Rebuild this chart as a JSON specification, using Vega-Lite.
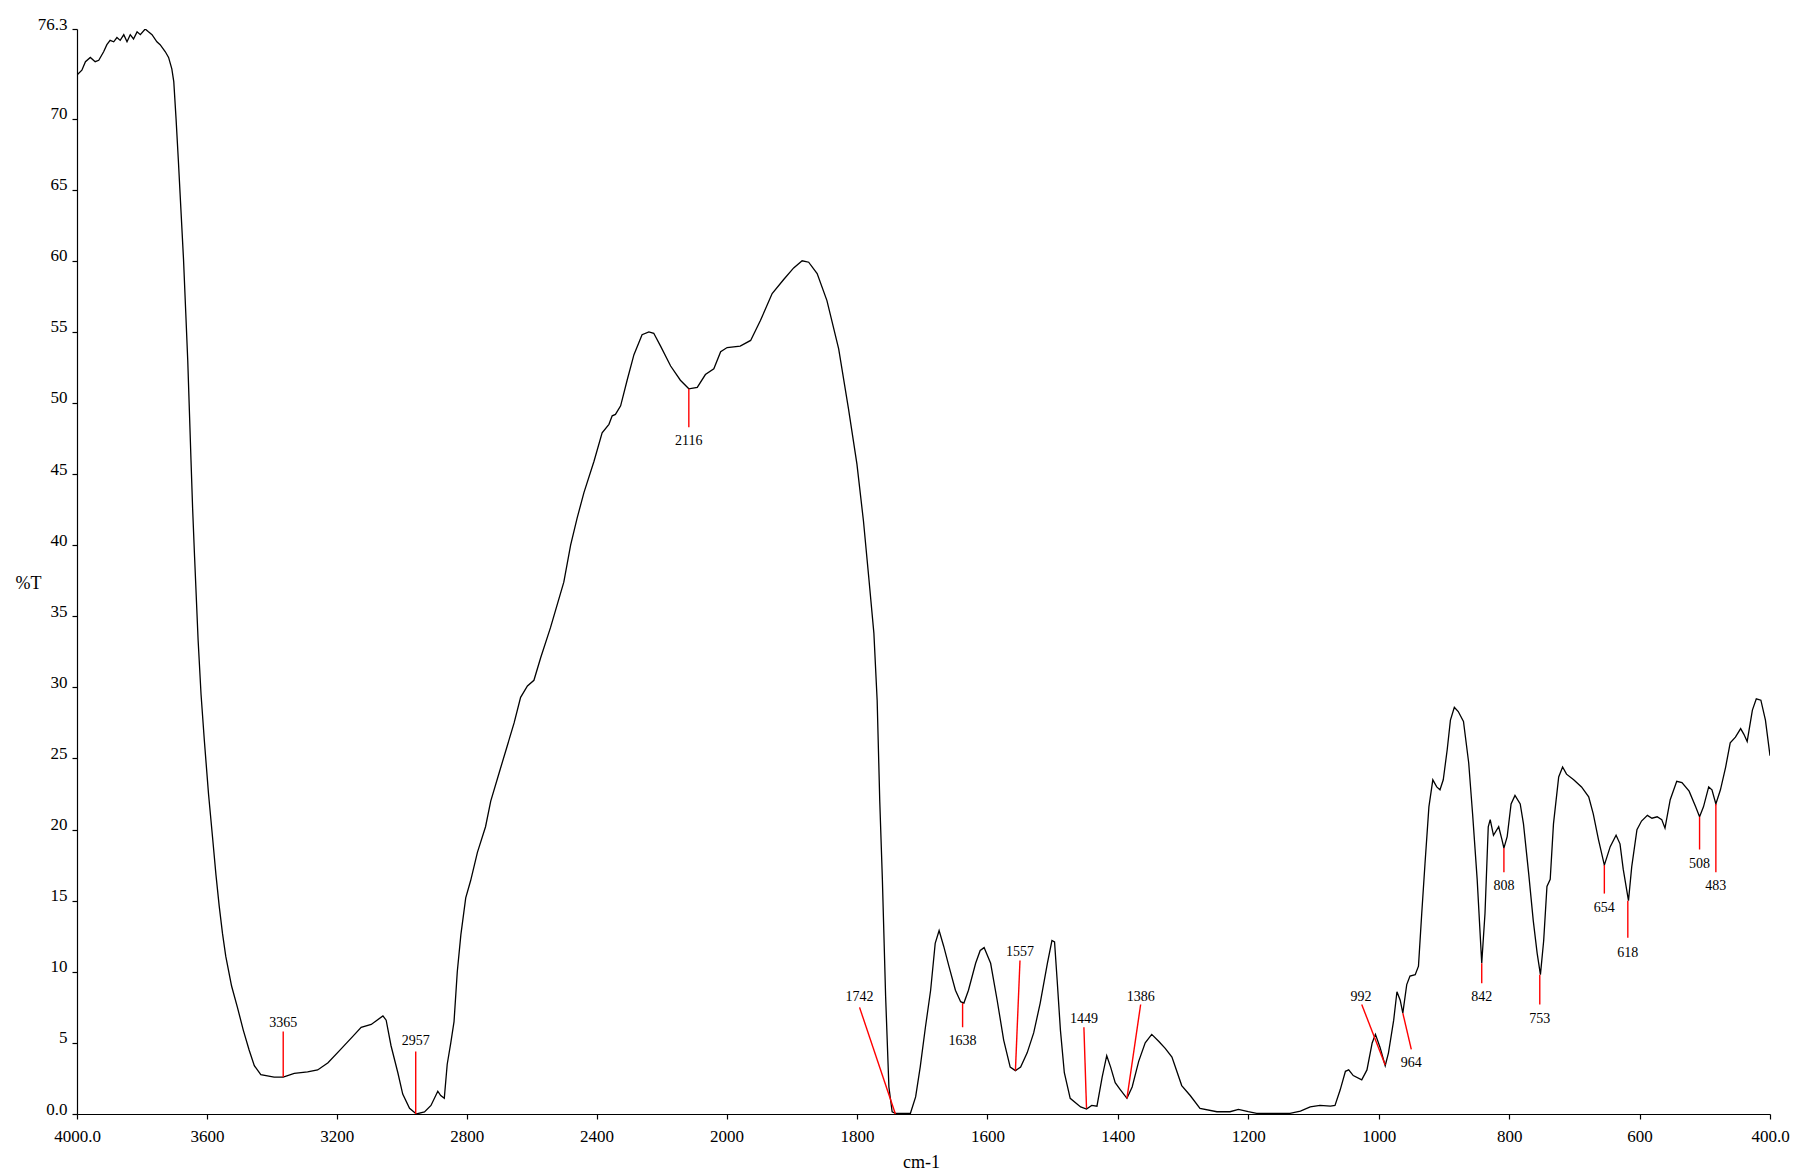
{
  "$schema": "https://vega.github.io/schema/vega-lite/v6.json",
  "width": 1693,
  "height": 1085,
  "autosize": {"type": "none"},
  "padding": {"left": 77, "top": 29, "right": 24, "bottom": 59},
  "background": "white",
  "config": {
    "view": {"stroke": null},
    "font": "Liberation Serif",
    "axis": {
      "grid": false,
      "domainColor": "#000000",
      "domainWidth": 1.2,
      "tickColor": "#000000",
      "tickWidth": 1.2,
      "tickSize": 5,
      "labelFont": "Liberation Serif",
      "labelFontSize": 17,
      "labelColor": "#000000",
      "titleFont": "Liberation Serif",
      "titleFontSize": 18,
      "titleFontWeight": "normal",
      "titleColor": "#000000"
    }
  },
  "datasets": {
    "spectrum": [
      {"w": 4000, "t": 73.07}, {"w": 3985, "t": 73.4}, {"w": 3974, "t": 74.0}, {"w": 3959, "t": 74.3},
      {"w": 3944, "t": 74.0}, {"w": 3933, "t": 74.1}, {"w": 3918, "t": 74.7}, {"w": 3908, "t": 75.2},
      {"w": 3898, "t": 75.5}, {"w": 3887, "t": 75.4}, {"w": 3877, "t": 75.7}, {"w": 3867, "t": 75.5},
      {"w": 3856, "t": 75.9}, {"w": 3846, "t": 75.4}, {"w": 3836, "t": 75.9}, {"w": 3826, "t": 75.6},
      {"w": 3815, "t": 76.1}, {"w": 3805, "t": 75.9}, {"w": 3790, "t": 76.3}, {"w": 3780, "t": 76.1},
      {"w": 3769, "t": 75.9}, {"w": 3754, "t": 75.4}, {"w": 3744, "t": 75.2}, {"w": 3728, "t": 74.7},
      {"w": 3718, "t": 74.3}, {"w": 3708, "t": 73.5}, {"w": 3702, "t": 72.6}, {"w": 3695, "t": 70.0},
      {"w": 3688, "t": 67.1}, {"w": 3680, "t": 63.6}, {"w": 3672, "t": 60.1}, {"w": 3665, "t": 56.3},
      {"w": 3659, "t": 53.0}, {"w": 3654, "t": 49.5}, {"w": 3649, "t": 46.0}, {"w": 3644, "t": 42.6},
      {"w": 3638, "t": 39.2}, {"w": 3627, "t": 33.3}, {"w": 3618, "t": 29.5}, {"w": 3608, "t": 26.3},
      {"w": 3595, "t": 22.5}, {"w": 3582, "t": 19.3}, {"w": 3572, "t": 16.8}, {"w": 3562, "t": 14.6},
      {"w": 3552, "t": 12.7}, {"w": 3542, "t": 11.1}, {"w": 3524, "t": 9.0}, {"w": 3506, "t": 7.5},
      {"w": 3488, "t": 5.9}, {"w": 3470, "t": 4.5}, {"w": 3454, "t": 3.4}, {"w": 3434, "t": 2.76},
      {"w": 3393, "t": 2.6},
      {"w": 3365, "t": 2.6}, {"w": 3331, "t": 2.86}, {"w": 3290, "t": 2.96}, {"w": 3259, "t": 3.1},
      {"w": 3227, "t": 3.6}, {"w": 3186, "t": 4.6}, {"w": 3145, "t": 5.6}, {"w": 3125, "t": 6.1},
      {"w": 3094, "t": 6.3}, {"w": 3058, "t": 6.9}, {"w": 3048, "t": 6.6}, {"w": 3033, "t": 4.8},
      {"w": 3012, "t": 2.9}, {"w": 2997, "t": 1.4}, {"w": 2976, "t": 0.4}, {"w": 2955, "t": 0.0},
      {"w": 2930, "t": 0.15}, {"w": 2910, "t": 0.6}, {"w": 2889, "t": 1.6}, {"w": 2880, "t": 1.3},
      {"w": 2869, "t": 1.1}, {"w": 2860, "t": 3.5}, {"w": 2849, "t": 5.0}, {"w": 2839, "t": 6.5},
      {"w": 2829, "t": 10.0}, {"w": 2818, "t": 12.6}, {"w": 2803, "t": 15.2}, {"w": 2788, "t": 16.4},
      {"w": 2767, "t": 18.4}, {"w": 2742, "t": 20.2}, {"w": 2726, "t": 22.0}, {"w": 2700, "t": 24.0},
      {"w": 2675, "t": 25.9}, {"w": 2654, "t": 27.5}, {"w": 2634, "t": 29.3}, {"w": 2613, "t": 30.1},
      {"w": 2593, "t": 30.5}, {"w": 2572, "t": 32.1}, {"w": 2542, "t": 34.2}, {"w": 2501, "t": 37.4},
      {"w": 2480, "t": 40.0}, {"w": 2460, "t": 41.9}, {"w": 2439, "t": 43.7}, {"w": 2408, "t": 45.9},
      {"w": 2383, "t": 47.9}, {"w": 2362, "t": 48.5}, {"w": 2352, "t": 49.1}, {"w": 2342, "t": 49.2},
      {"w": 2326, "t": 49.8}, {"w": 2306, "t": 51.6}, {"w": 2285, "t": 53.4}, {"w": 2260, "t": 54.8},
      {"w": 2239, "t": 55.0}, {"w": 2224, "t": 54.9}, {"w": 2203, "t": 54.0}, {"w": 2172, "t": 52.6},
      {"w": 2142, "t": 51.6}, {"w": 2116, "t": 51.0}, {"w": 2090, "t": 51.1}, {"w": 2065, "t": 52.0},
      {"w": 2039, "t": 52.4}, {"w": 2018, "t": 53.6}, {"w": 1999, "t": 53.9}, {"w": 1979, "t": 54.0},
      {"w": 1963, "t": 54.4}, {"w": 1948, "t": 55.8}, {"w": 1930, "t": 57.7}, {"w": 1912, "t": 58.7},
      {"w": 1897, "t": 59.5}, {"w": 1884, "t": 60.0}, {"w": 1874, "t": 59.9}, {"w": 1861, "t": 59.1},
      {"w": 1846, "t": 57.2}, {"w": 1828, "t": 53.8}, {"w": 1813, "t": 49.6}, {"w": 1800, "t": 45.7},
      {"w": 1790, "t": 41.7}, {"w": 1782, "t": 37.8}, {"w": 1774, "t": 33.8}, {"w": 1769, "t": 29.1},
      {"w": 1765, "t": 22.0}, {"w": 1761, "t": 16.5}, {"w": 1756, "t": 8.25}, {"w": 1751, "t": 1.9},
      {"w": 1746, "t": 0.15}, {"w": 1741, "t": 0.05}, {"w": 1718, "t": 0.05}, {"w": 1710, "t": 1.2},
      {"w": 1703, "t": 3.3}, {"w": 1695, "t": 6.1}, {"w": 1687, "t": 8.7}, {"w": 1680, "t": 12.0},
      {"w": 1674, "t": 12.9}, {"w": 1667, "t": 11.8}, {"w": 1659, "t": 10.4}, {"w": 1649, "t": 8.7},
      {"w": 1641, "t": 7.9}, {"w": 1636, "t": 7.8}, {"w": 1629, "t": 8.7}, {"w": 1618, "t": 10.6},
      {"w": 1611, "t": 11.5}, {"w": 1605, "t": 11.7}, {"w": 1595, "t": 10.6}, {"w": 1585, "t": 8.0},
      {"w": 1575, "t": 5.2}, {"w": 1565, "t": 3.3}, {"w": 1557, "t": 3.05}, {"w": 1549, "t": 3.3},
      {"w": 1539, "t": 4.3}, {"w": 1529, "t": 5.7}, {"w": 1519, "t": 7.8}, {"w": 1508, "t": 10.6},
      {"w": 1501, "t": 12.2}, {"w": 1497, "t": 12.1}, {"w": 1493, "t": 9.4}, {"w": 1488, "t": 5.9},
      {"w": 1482, "t": 2.9}, {"w": 1473, "t": 1.1}, {"w": 1457, "t": 0.5}, {"w": 1448, "t": 0.35},
      {"w": 1440, "t": 0.6}, {"w": 1432, "t": 0.55}, {"w": 1424, "t": 2.6}, {"w": 1417, "t": 4.1},
      {"w": 1411, "t": 3.3}, {"w": 1404, "t": 2.2}, {"w": 1396, "t": 1.7}, {"w": 1386, "t": 1.1},
      {"w": 1378, "t": 1.9}, {"w": 1368, "t": 3.7}, {"w": 1358, "t": 5.0}, {"w": 1348, "t": 5.6},
      {"w": 1337, "t": 5.1}, {"w": 1327, "t": 4.6}, {"w": 1317, "t": 4.0}, {"w": 1302, "t": 2.0},
      {"w": 1289, "t": 1.3}, {"w": 1274, "t": 0.4}, {"w": 1248, "t": 0.16}, {"w": 1228, "t": 0.16},
      {"w": 1215, "t": 0.33}, {"w": 1200, "t": 0.16}, {"w": 1187, "t": 0.05}, {"w": 1136, "t": 0.05},
      {"w": 1120, "t": 0.2}, {"w": 1105, "t": 0.5}, {"w": 1090, "t": 0.6}, {"w": 1074, "t": 0.56},
      {"w": 1067, "t": 0.6}, {"w": 1059, "t": 1.7}, {"w": 1051, "t": 3.0}, {"w": 1046, "t": 3.1},
      {"w": 1039, "t": 2.7}, {"w": 1026, "t": 2.4}, {"w": 1018, "t": 3.1}, {"w": 1010, "t": 5.0},
      {"w": 1005, "t": 5.6}, {"w": 998, "t": 4.7}, {"w": 990, "t": 3.4}, {"w": 985, "t": 4.3},
      {"w": 977, "t": 6.6}, {"w": 972, "t": 8.6}, {"w": 967, "t": 8.0}, {"w": 963, "t": 7.1},
      {"w": 957, "t": 9.1}, {"w": 952, "t": 9.7}, {"w": 944, "t": 9.8}, {"w": 939, "t": 10.4},
      {"w": 934, "t": 14.1}, {"w": 929, "t": 17.6}, {"w": 923, "t": 21.6}, {"w": 917, "t": 23.5},
      {"w": 911, "t": 23.0}, {"w": 906, "t": 22.8}, {"w": 901, "t": 23.5}, {"w": 895, "t": 25.6},
      {"w": 890, "t": 27.7}, {"w": 884, "t": 28.6}, {"w": 878, "t": 28.3}, {"w": 870, "t": 27.6},
      {"w": 862, "t": 24.7}, {"w": 856, "t": 21.1}, {"w": 849, "t": 16.5}, {"w": 842, "t": 10.6},
      {"w": 837, "t": 14.1}, {"w": 832, "t": 20.2}, {"w": 829, "t": 20.7}, {"w": 824, "t": 19.6},
      {"w": 816, "t": 20.2}, {"w": 811, "t": 19.3}, {"w": 808, "t": 18.7}, {"w": 803, "t": 19.5},
      {"w": 797, "t": 21.8}, {"w": 791, "t": 22.4}, {"w": 783, "t": 21.8}, {"w": 778, "t": 20.4},
      {"w": 770, "t": 16.9}, {"w": 763, "t": 13.6}, {"w": 757, "t": 11.3}, {"w": 752, "t": 9.8},
      {"w": 747, "t": 12.2}, {"w": 742, "t": 16.0}, {"w": 737, "t": 16.5}, {"w": 732, "t": 20.4},
      {"w": 724, "t": 23.7}, {"w": 718, "t": 24.4}, {"w": 712, "t": 23.9}, {"w": 701, "t": 23.5},
      {"w": 689, "t": 23.0}, {"w": 678, "t": 22.3}, {"w": 671, "t": 21.1}, {"w": 663, "t": 19.3},
      {"w": 654, "t": 17.5}, {"w": 645, "t": 18.8}, {"w": 636, "t": 19.6}, {"w": 630, "t": 19.0},
      {"w": 625, "t": 17.2}, {"w": 617, "t": 15.0}, {"w": 612, "t": 17.4}, {"w": 604, "t": 20.0},
      {"w": 597, "t": 20.6}, {"w": 588, "t": 21.0}, {"w": 581, "t": 20.8}, {"w": 573, "t": 20.9},
      {"w": 566, "t": 20.7}, {"w": 561, "t": 20.1}, {"w": 553, "t": 22.1}, {"w": 543, "t": 23.4},
      {"w": 535, "t": 23.3}, {"w": 524, "t": 22.7}, {"w": 514, "t": 21.6}, {"w": 508, "t": 20.9},
      {"w": 502, "t": 21.6}, {"w": 494, "t": 23.0}, {"w": 489, "t": 22.8}, {"w": 483, "t": 21.8},
      {"w": 476, "t": 22.8}, {"w": 468, "t": 24.4}, {"w": 461, "t": 26.1}, {"w": 453, "t": 26.5},
      {"w": 445, "t": 27.1}, {"w": 440, "t": 26.7}, {"w": 435, "t": 26.2}, {"w": 427, "t": 28.4},
      {"w": 421, "t": 29.2}, {"w": 414, "t": 29.1}, {"w": 407, "t": 27.7}, {"w": 400, "t": 25.2}
    ],
    "peaks": [
      {"label": "3365", "x1": 3365, "y1": 2.6, "x2": 3365, "y2": 5.8, "lx": 3365, "ly": 6.4},
      {"label": "2957", "x1": 2957, "y1": 0, "x2": 2957, "y2": 4.4, "lx": 2957, "ly": 5.1},
      {"label": "2116", "x1": 2116, "y1": 51.0, "x2": 2116, "y2": 48.3, "lx": 2116, "ly": 47.3},
      {"label": "1742", "x1": 1741, "y1": 0, "x2": 1796, "y2": 7.5, "lx": 1796, "ly": 8.2},
      {"label": "1638", "x1": 1638, "y1": 7.8, "x2": 1638, "y2": 6.1, "lx": 1638, "ly": 5.1},
      {"label": "1557", "x1": 1557, "y1": 3.05, "x2": 1550, "y2": 10.8, "lx": 1550, "ly": 11.4},
      {"label": "1449", "x1": 1448, "y1": 0.4, "x2": 1452, "y2": 6.1, "lx": 1452, "ly": 6.7},
      {"label": "1386", "x1": 1386, "y1": 1.1, "x2": 1365, "y2": 7.7, "lx": 1365, "ly": 8.25},
      {"label": "992", "x1": 990, "y1": 3.45, "x2": 1026, "y2": 7.7, "lx": 1027, "ly": 8.25},
      {"label": "964", "x1": 963, "y1": 7.1, "x2": 950, "y2": 4.55, "lx": 950, "ly": 3.6},
      {"label": "842", "x1": 842, "y1": 10.6, "x2": 842, "y2": 9.2, "lx": 842, "ly": 8.2},
      {"label": "808", "x1": 808, "y1": 18.7, "x2": 808, "y2": 17.0, "lx": 808, "ly": 16.0},
      {"label": "753", "x1": 753, "y1": 9.8, "x2": 753, "y2": 7.7, "lx": 753, "ly": 6.7},
      {"label": "654", "x1": 654, "y1": 17.5, "x2": 654, "y2": 15.5, "lx": 654, "ly": 14.5},
      {"label": "618", "x1": 618, "y1": 15.0, "x2": 618, "y2": 12.4, "lx": 618, "ly": 11.3},
      {"label": "508", "x1": 508, "y1": 20.9, "x2": 508, "y2": 18.6, "lx": 508, "ly": 17.6},
      {"label": "483", "x1": 483, "y1": 21.8, "x2": 483, "y2": 17.0, "lx": 483, "ly": 16.0}
    ]
  },
  "layer": [
    {
      "data": {"name": "spectrum"},
      "mark": {"type": "line", "color": "#000000", "strokeWidth": 1.3, "clip": true},
      "encoding": {
        "x": {
          "field": "w", "type": "quantitative",
          "scale": {"domain": [4000, 2000, 400], "range": [0, 649.5, 1693], "nice": false, "zero": false},
          "axis": {
            "title": "cm-1",
            "values": [4000, 3600, 3200, 2800, 2400, 2000, 1800, 1600, 1400, 1200, 1000, 800, 600, 400],
            "labelExpr": "datum.value == 4000 ? '4000.0' : (datum.value == 400 ? '400.0' : '' + datum.value)",
            "labelPadding": 9,
            "labelOverlap": false,
            "labelFlush": false,
            "titleX": 844,
            "titleY": 48,
            "titleAlign": "center",
            "titleBaseline": "middle"
          }
        },
        "y": {
          "field": "t", "type": "quantitative",
          "scale": {"domain": [0, 76.3], "nice": false, "zero": false},
          "axis": {
            "title": "%T",
            "values": [0, 5, 10, 15, 20, 25, 30, 35, 40, 45, 50, 55, 60, 65, 70, 76.3],
            "labelExpr": "datum.value == 0 ? '0.0' : '' + datum.value",
            "labelBaseline": "alphabetic",
            "labelPadding": 5,
            "labelOverlap": false,
            "labelFlush": false,
            "titleAngle": 0,
            "titleX": -62,
            "titleY": 554,
            "titleAlign": "left",
            "titleBaseline": "middle"
          }
        }
      }
    },
    {
      "data": {"name": "peaks"},
      "mark": {"type": "rule", "color": "#ff0000", "strokeWidth": 1.4},
      "encoding": {
        "x": {"field": "x1", "type": "quantitative"},
        "y": {"field": "y1", "type": "quantitative"},
        "x2": {"field": "x2"},
        "y2": {"field": "y2"}
      }
    },
    {
      "data": {"name": "peaks"},
      "mark": {"type": "text", "font": "Liberation Serif", "fontSize": 14, "color": "#000000", "align": "center", "baseline": "middle"},
      "encoding": {
        "x": {"field": "lx", "type": "quantitative"},
        "y": {"field": "ly", "type": "quantitative"},
        "text": {"field": "label"}
      }
    }
  ]
}
